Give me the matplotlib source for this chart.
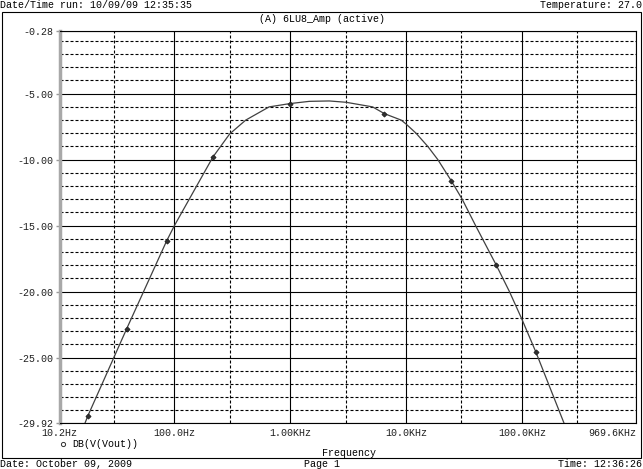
import matplotlib
matplotlib.use("Agg")
import matplotlib.pyplot as plt
from matplotlib.lines import Line2D
from matplotlib.patches import Rectangle
from matplotlib.ticker import NullFormatter

plt.rcParams['font.family'] = ['Liberation Mono', 'DejaVu Sans Mono', 'DejaVu Sans']
FS = 7.2

# curve (Hz, dB)
freq = [17.0, 17.9, 38.8, 85.6, 100, 215, 300, 413, 657, 992, 1460, 2170,
        3030, 5140, 6490, 9060, 10000, 12200, 15400, 18800, 22200, 24500,
        30500, 39800, 60100, 78000, 100000, 132000, 229600]
gain = [-29.92, -29.42, -22.80, -16.17, -15.0, -9.80, -8.05, -7.0, -6.0, -5.75,
        -5.58, -5.55, -5.65, -6.0, -6.51, -7.0, -7.3, -8.0, -9.0, -10.0, -11.0,
        -11.59, -13.0, -15.0, -18.0, -20.0, -22.1, -24.59, -29.92]

# symbol markers on the trace
mark_f = [17.9, 38.8, 85.6, 215, 992, 6490, 24500, 60100, 132000]
mark_db = [-29.42, -22.80, -16.17, -9.80, -5.75, -6.51, -11.59, -18.0, -24.59]

xticks = [10.2, 100, 1e3, 1e4, 1e5, 969.6e3]
xlabels = ['10.2Hz', '100.0Hz', '1.00KHz', '10.0KHz', '100.0KHz', '969.6KHz']
xminor = [30, 300, 3e3, 3e4, 3e5]
yticks = [-0.28, -5, -10, -15, -20, -25, -29.92]
ylabels = ['-0.28', '-5.00', '-10.00', '-15.00', '-20.00', '-25.00', '-29.92']
yminor = [v for v in range(-29, 0) if v % 5 != 0]

W, H = 643, 469
fig = plt.figure(figsize=(W / 100, H / 100), dpi=100)
ax = fig.add_axes([59.5 / W, 1 - 422.6 / H, (636.3 - 59.5) / W, (422.6 - 31.4) / H])

ax.set_xscale('log')
ax.set_xlim(10.2, 969600)
ax.set_ylim(-29.92, -0.28)
ax.set_xticks(xticks)
ax.set_xticklabels(xlabels)
ax.set_xticks(xminor, minor=True)
ax.xaxis.set_minor_formatter(NullFormatter())
ax.set_yticks(yticks)
ax.set_yticklabels(ylabels)
ax.set_yticks(yminor, minor=True)
ax.yaxis.set_minor_formatter(NullFormatter())

ax.grid(which='major', color='black', lw=0.8, ls='-')
ax.grid(which='minor', color='black', lw=0.8, ls=(0, (2.7, 1.8)))

ax.tick_params(axis='y', which='major', length=3, width=1, color='#999999',
               pad=1.5, labelsize=FS, labelcolor='#202020')
ax.tick_params(axis='x', which='major', length=0, pad=4, labelsize=FS,
               labelcolor='#202020')
ax.tick_params(which='minor', length=0)
ax.get_xticklabels()[-1].set_horizontalalignment('right')

for s in ['top', 'right', 'bottom']:
    ax.spines[s].set_color('black')
    ax.spines[s].set_linewidth(0.8)
ax.spines['left'].set_color('#a8a8a8')
ax.spines['left'].set_linewidth(2.5)

ax.plot(freq, gain, color='#404040', lw=0.9, zorder=3)
ax.plot(mark_f, mark_db, ls='none', marker='D', ms=2.6, mfc='#303030',
        mec='#202020', mew=0.6, zorder=4)

# page decorations
fig.text(0.5 / W, 1 - 5 / H, 'Date/Time run: 10/09/09 12:35:35', ha='left', va='center', size=FS)
fig.text(1 - 1 / W, 1 - 5 / H, 'Temperature: 27.0', ha='right', va='center', size=FS)
fig.text(322 / W, 1 - 19 / H, '(A) 6LU8_Amp (active)', ha='center', va='center', size=FS)
fig.text(349 / W, 1 - 453 / H, 'Frequency', ha='center', va='center', size=FS)
fig.text(0.5 / W, 1 - 464 / H, 'Date: October 09, 2009', ha='left', va='center', size=FS)
fig.text(322 / W, 1 - 464 / H, 'Page 1', ha='center', va='center', size=FS)
fig.text(1 - 1 / W, 1 - 464 / H, 'Time: 12:36:26', ha='right', va='center', size=FS)

fig.add_artist(Rectangle((1.5 / W, 1 - 458 / H), (641 - 1.5) / W, (458 - 12) / H,
                         transform=fig.transFigure, fill=False, lw=0.8, ec='black'))

handle = Line2D([], [], ls='none', marker='o', ms=3, mfc='none', mec='#303030', mew=0.7)
fig.legend(handles=[handle], labels=['DB(V(Vout))'], loc='center left',
           bbox_to_anchor=(58 / W, 1 - 444 / H), frameon=False, handlelength=1,
           handletextpad=0.4, borderpad=0, borderaxespad=0, prop=dict(size=FS))

fig.savefig('out.png', dpi=100)
